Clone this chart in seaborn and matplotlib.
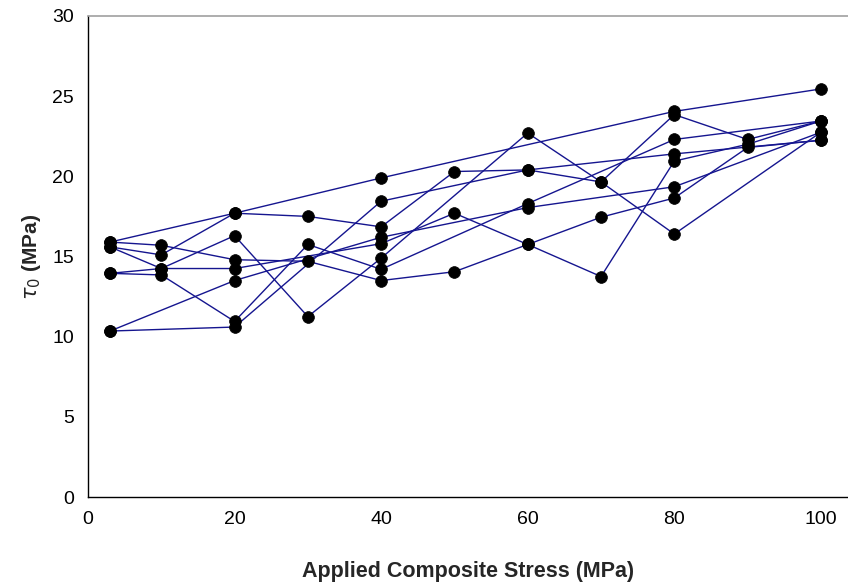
import matplotlib
matplotlib.use("Agg")
import matplotlib.pyplot as plt
import seaborn as sns
import pandas as pd

# x positions (Applied composite stress, MPa) and tau0 values (MPa) for each specimen series
s1_x = [3, 20, 40, 80, 100]
s1_y = [15.9, 17.7, 19.9, 24.05, 25.45]

s2_x = [3, 10, 20, 30, 40, 50, 60, 70, 80, 90, 100]
s2_y = [15.9, 15.7, 14.8, 14.7, 13.5, 14.05, 15.75, 17.45, 18.65, 21.8, 22.25]

s3_x = [3, 10, 20, 30, 40, 50, 60, 70, 80, 90, 100]
s3_y = [15.6, 15.1, 17.7, 17.5, 16.85, 20.3, 20.4, 19.65, 23.85, 22.3, 23.45]

s4_x = [3, 10, 20, 30, 40, 60, 70, 80, 100]
s4_y = [15.6, 14.25, 16.3, 11.25, 14.9, 22.7, 19.65, 16.4, 22.75]

s5_x = [3, 10, 20, 40, 50, 60, 70, 80, 90, 100]
s5_y = [13.95, 14.25, 14.25, 15.8, 17.7, 15.75, 13.75, 20.95, 22.0, 23.45]

s6_x = [3, 10, 20, 30, 40, 60, 80, 100]
s6_y = [13.95, 13.85, 10.95, 15.75, 14.2, 18.3, 22.3, 23.45]

s7_x = [3, 20, 40, 60, 80, 100]
s7_y = [10.35, 10.6, 18.45, 20.4, 21.4, 22.25]

s8_x = [3, 20, 40, 60, 80, 100]
s8_y = [10.35, 13.5, 16.2, 18.05, 19.35, 22.75]

series = [(s1_x, s1_y), (s2_x, s2_y), (s3_x, s3_y), (s4_x, s4_y),
          (s5_x, s5_y), (s6_x, s6_y), (s7_x, s7_y), (s8_x, s8_y)]

x_ticks = [0, 20, 40, 60, 80, 100]
y_ticks = [0, 5, 10, 15, 20, 25, 30]

rows = []
for i, (xs, ys) in enumerate(series):
    for order, (xv, yv) in enumerate(zip(xs, ys)):
        rows.append({"series": i, "order": order, "stress": xv, "tau": yv})
df = pd.DataFrame(rows)

sns.set_style("white")
plt.rcParams["font.family"] = ["Liberation Sans", "DejaVu Sans"]

fig = plt.figure(figsize=(8.48, 5.87), dpi=100)
ax = fig.add_axes([88 / 848, 90 / 587, 1 - 88 / 848, (497 - 16) / 587])

sns.lineplot(data=df, x="stress", y="tau", units="series", estimator=None,
             sort=False, color="#15158f", linewidth=1.0, ax=ax, legend=False)
sns.scatterplot(data=df, x="stress", y="tau", color="black", s=72,
                edgecolor="black", linewidth=0.5, ax=ax, legend=False, zorder=5)

ax.set_xlim(0, 103.7)
ax.set_ylim(0, 30)
ax.set_xticks(x_ticks)
ax.set_yticks(y_ticks)
ax.tick_params(axis="both", direction="out", length=5, width=1, colors="black",
               labelsize=14, pad=5)

for side in ["left", "bottom"]:
    ax.spines[side].set_color("black")
    ax.spines[side].set_linewidth(1.0)
ax.spines["top"].set_color("#a0a0a0")
ax.spines["top"].set_linewidth(1.2)
ax.spines["right"].set_visible(False)

ax.set_xlabel("Applied Composite Stress (MPa)", fontsize=15.5, fontweight="bold",
              labelpad=24)
ax.set_ylabel(r"$\tau_0$ (MPa)", fontsize=15, fontweight="bold", labelpad=7)

fig.savefig("out.png", dpi=100)
